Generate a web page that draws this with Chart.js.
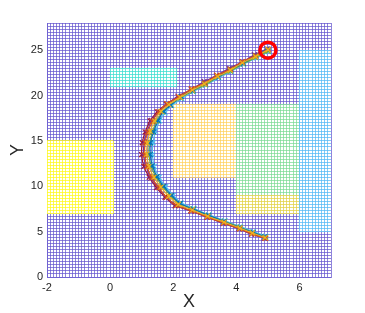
<!DOCTYPE html>
<html><head><meta charset="utf-8">
<script src="https://cdn.jsdelivr.net/npm/chart.js@4"></script>
<style>html,body{margin:0;padding:0;background:#fff}canvas{display:block}</style>
</head><body>
<canvas id="c" width="365" height="313"></canvas>
<script>
// ---- tick labels ----
const xTickLabels = [-2, 0, 2, 4, 6];
const yTickLabels = [0, 5, 10, 15, 20, 25];

// ---- coloured regions (data bounds) ----
const regionName = ['cyan', 'yellow', 'orange', 'green', 'khaki', 'blue'];
const regionX0 = [0, -2, 2, 4, 4, 6];
const regionX1 = [2.1, 0.1, 4, 6, 6, 7];
const regionY0 = [21, 7, 11, 9, 7, 5];
const regionY1 = [23, 15, 19, 19, 9, 25];

// ---- start point ----
const startX = [5.0];
const startY = [25.0];

// ---- trajectories ----
const yellowX = [5.00,4.61,4.19,3.81,3.41,2.98,2.61,2.22,1.86,1.61,1.41,1.27,1.18,1.16,1.23,1.39,1.61,1.86,2.16,2.61,3.09,3.61,4.11,4.51,4.91];
const yellowY = [25.05,24.3,23.6,22.8,22.1,21.3,20.6,19.8,19.0,18.25,17.2,16.05,14.75,13.55,12.2,11.0,9.9,8.9,8.0,7.4,6.7,6.05,5.4,4.85,4.35];
const cyanX = [5.03,4.64,4.23,3.84,3.44,3.03,2.64,2.27,1.95,1.74,1.57,1.44,1.36,1.34,1.40,1.55,1.76,2.00,2.26,2.66,3.14,3.64,4.13,4.54,4.93];
const cyanY = [24.85,24.15,23.45,22.65,21.95,21.15,20.45,19.65,18.9,18.1,17.2,16.05,14.8,13.5,12.2,11.0,9.95,9.0,8.15,7.55,6.85,6.2,5.55,5.0,4.5];
const blueX = [4.98,4.60,4.22,3.82,3.43,3.01,2.63,2.25,1.92,1.70,1.52,1.38,1.28,1.27,1.34,1.49,1.70,1.95,2.22,2.64,3.12,3.61,4.10,4.53,4.90];
const blueY = [25.1,24.4,23.55,22.9,22.05,21.4,20.55,19.9,18.95,18.25,17.25,16.0,14.8,13.5,12.25,11.05,10.0,9.0,8.1,7.45,6.8,6.12,5.45,4.92,4.42];
const orangeX = [5.02,4.62,4.18,3.82,3.38,3.02,2.58,2.17,1.80,1.54,1.34,1.19,1.11,1.10,1.17,1.32,1.54,1.79,2.10,2.57,3.08,3.60,4.11,4.48,4.93];
const orangeY = [25.1,24.4,23.75,22.9,22.25,21.4,20.75,19.85,19.1,18.2,17.15,15.95,14.85,13.45,12.15,10.95,9.85,8.8,7.9,7.3,6.6,5.95,5.32,4.75,4.25];
const purpleX = [4.97,4.57,4.19,3.77,3.37,2.98,2.57,2.15,1.79,1.52,1.31,1.16,1.08,1.06,1.13,1.29,1.51,1.77,2.08,2.57,3.09,3.58,4.08,4.48,4.88];
const purpleY = [25.15,24.5,23.7,23.0,22.2,21.55,20.65,19.95,19.0,18.15,17.25,15.9,14.9,13.4,12.3,10.9,9.9,8.75,7.95,7.25,6.62,5.9,5.35,4.7,4.3];
const greenX = [5.01,4.61,4.22,3.81,3.42,3.02,2.62,2.24,1.91,1.67,1.48,1.34,1.25,1.23,1.30,1.46,1.67,1.92,2.20,2.63,3.12,3.62,4.12,4.52,4.93];
const greenY = [24.9,24.2,23.5,22.7,22.05,21.2,20.5,19.75,18.95,18.2,17.2,16.0,14.8,13.5,12.2,11.0,9.95,8.95,8.08,7.5,6.78,6.12,5.48,4.92,4.4];
const redX = [5.00,4.60,4.19,3.79,3.39,2.99,2.59,2.16,1.78,1.49,1.27,1.11,1.02,1.00,1.07,1.24,1.47,1.74,2.06,2.56,3.07,3.59,4.09,4.49,4.89];
const redY = [25.0,24.35,23.65,22.85,22.15,21.35,20.65,19.85,19.05,18.2,17.2,16.0,14.8,13.5,12.2,11.0,9.85,8.8,7.85,7.3,6.6,5.97,5.32,4.78,4.28];

// ---- styles ----
const gridColor = 'rgba(100,84,206,0.72)';
const regionColors = {
  cyan: 'rgba(60,222,208,0.75)',
  yellow: 'rgba(255,250,30,0.75)',
  orange: 'rgba(255,208,90,0.7)',
  green: 'rgba(120,218,145,0.7)',
  khaki: 'rgba(225,210,70,0.75)',
  blue: 'rgba(80,185,245,0.72)'
};
const zip = (xs, ys) => xs.map((x, i) => ({x, y: ys[i]}));
function traj(label, xs, ys, color) {
  return {
    label, data: zip(xs, ys), showLine: true, borderColor: color, backgroundColor: color,
    borderWidth: 1.2, pointStyle: 'crossRot', pointRadius: 3.5, pointBorderWidth: 1.2,
    pointBorderColor: color, tension: 0.15
  };
}

const regionPlugin = {
  id: 'regions',
  beforeDatasetsDraw(chart) {
    const {ctx, chartArea, scales: {x, y}} = chart;
    const align = p => Math.round(p - 0.5) + 0.5;
    ctx.save();
    ctx.beginPath();
    ctx.rect(chartArea.left, chartArea.top, chartArea.right - chartArea.left, chartArea.bottom - chartArea.top);
    ctx.clip();
    regionName.forEach((name, i) => {
      const px0 = x.getPixelForValue(regionX0[i]);
      const px1 = x.getPixelForValue(regionX1[i]);
      const py0 = y.getPixelForValue(regionY1[i]);
      const py1 = y.getPixelForValue(regionY0[i]);
      ctx.fillStyle = '#ffffff';
      ctx.fillRect(px0, py0, px1 - px0, py1 - py0);
      ctx.strokeStyle = regionColors[name];
      ctx.lineWidth = 1;
      ctx.beginPath();
      x.ticks.forEach(t => {
        if (t.value >= regionX0[i] - 1e-6 && t.value <= regionX1[i] + 1e-6) {
          const p = align(x.getPixelForValue(t.value));
          ctx.moveTo(p, py0); ctx.lineTo(p, py1);
        }
      });
      y.ticks.forEach(t => {
        if (t.value >= regionY0[i] - 1e-6 && t.value <= regionY1[i] + 1e-6) {
          const p = align(y.getPixelForValue(t.value));
          ctx.moveTo(px0, p); ctx.lineTo(px1, p);
        }
      });
      ctx.stroke();
    });
    ctx.restore();
  }
};

const tickFont = {family: 'Liberation Sans', size: 11};
const titleFont = {family: 'Liberation Sans', size: 18};

new Chart(document.getElementById('c'), {
  type: 'scatter',
  data: {
    datasets: [
      {label: 'start', data: zip(startX, startY), pointStyle: 'circle', pointRadius: 8,
       pointBorderWidth: 3.5, borderColor: 'rgb(255,0,0)', backgroundColor: 'rgba(0,0,0,0)'},
      traj('yellow', yellowX, yellowY, '#EDB120'),
      traj('orange', orangeX, orangeY, '#D95319'),
      traj('blue', blueX, blueY, '#0072BD'),
      traj('green', greenX, greenY, '#77AC30'),
      traj('cyan', cyanX, cyanY, '#4DBEEE'),
      traj('purple', purpleX, purpleY, '#7E2F8E'),
      traj('red', redX, redY, '#A2142F')
    ]
  },
  options: {
    responsive: false,
    animation: false,
    events: [],
    layout: {padding: {top: 23, right: 34, left: 0, bottom: 0}},
    plugins: {legend: {display: false}, tooltip: {enabled: false}},
    scales: {
      x: {
        type: 'linear', min: -2, max: 7,
        afterFit(s) { s.height = 36; },
        grid: {color: gridColor, lineWidth: 1, drawTicks: false, tickLength: 0},
        border: {display: true, color: gridColor},
        ticks: {
          stepSize: 0.1, autoSkip: false, maxRotation: 0, padding: 4,
          color: '#262626', font: tickFont,
          callback(v) { const r = Math.round(v); return (Math.abs(v - r) < 1e-6 && xTickLabels.includes(r)) ? String(r) : ''; }
        },
        title: {display: true, text: 'X', color: '#262626', font: titleFont, padding: {top: 5, bottom: 0}}
      },
      y: {
        type: 'linear', min: 0, max: 28,
        afterFit(s) { s.width = 47; },
        grid: {color: gridColor, lineWidth: 1, drawTicks: false, tickLength: 0},
        border: {display: true, color: gridColor},
        ticks: {
          stepSize: 1/3, autoSkip: false, padding: 4,
          color: '#262626', font: tickFont,
          callback(v) { const r = Math.round(v); return (Math.abs(v - r) < 1e-6 && yTickLabels.includes(r)) ? String(r) : ''; }
        },
        title: {display: true, text: 'Y', color: '#262626', font: titleFont, padding: {top: 7, bottom: 0}}
      }
    }
  },
  plugins: [regionPlugin]
});
</script>
</body></html>
